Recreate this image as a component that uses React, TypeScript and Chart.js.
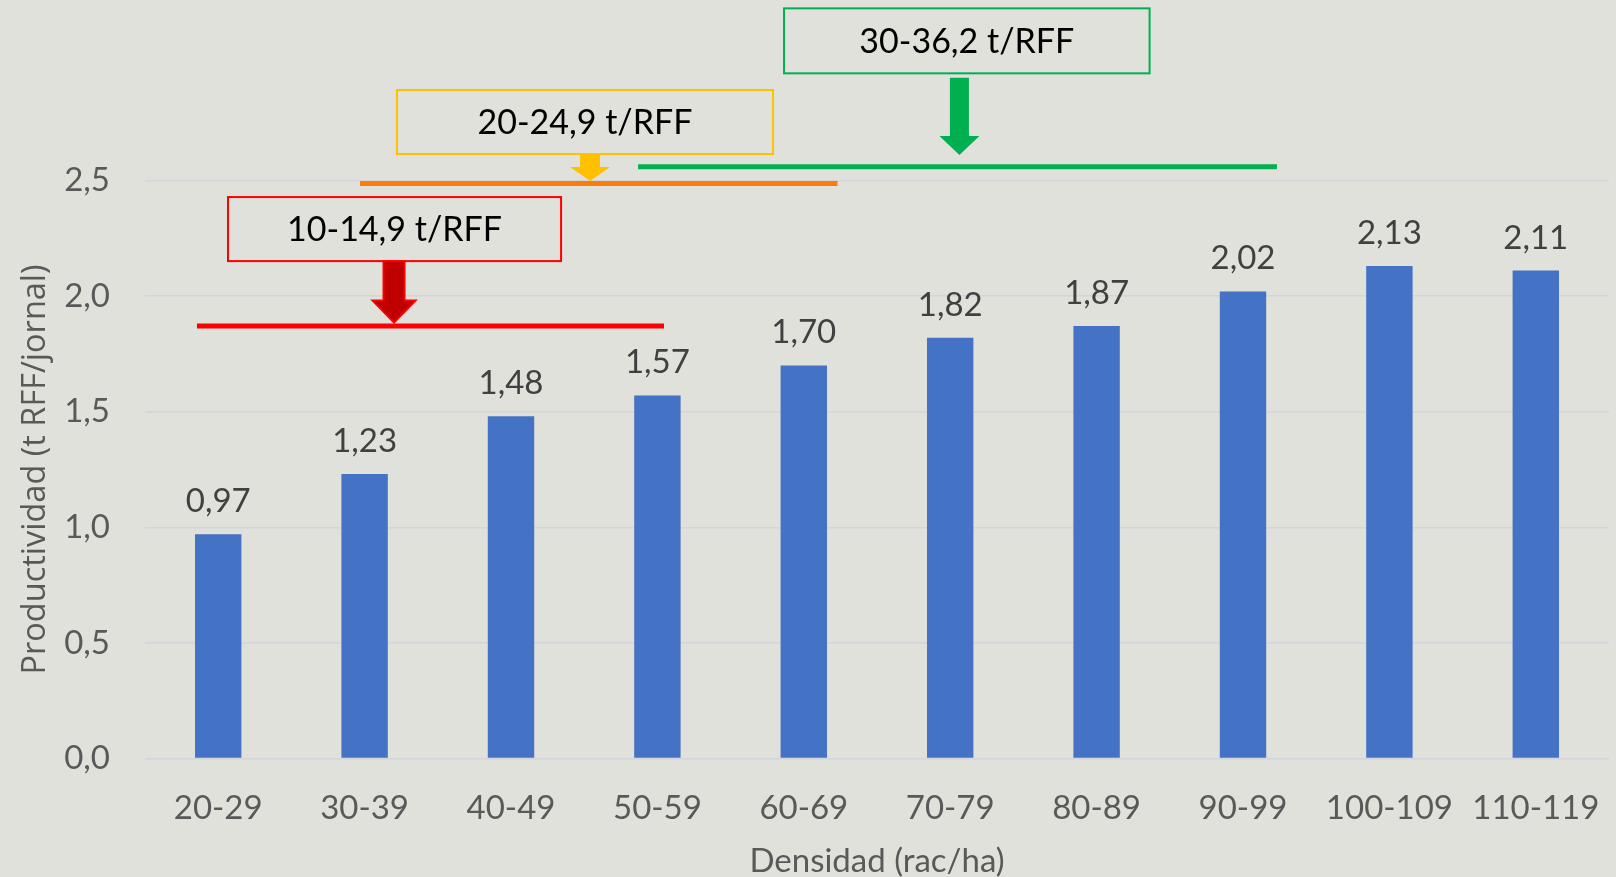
import React, { useEffect, useRef } from "react";
import { Chart, registerables } from "chart.js";

Chart.register(...registerables);

// ---- data ----
const categories = ["20-29", "30-39", "40-49", "50-59", "60-69", "70-79", "80-89", "90-99", "100-109", "110-119"];
const productividad = [0.97, 1.23, 1.48, 1.57, 1.7, 1.82, 1.87, 2.02, 2.13, 2.11];
const yTickValues = [0, 0.5, 1.0, 1.5, 2.0, 2.5];

// range annotations (category index units on x, productivity units on y)
const rangeLabels = ["10-14,9 t/RFF", "20-24,9 t/RFF", "30-36,2 t/RFF"];
const rangeLevel = [1.87, 2.487, 2.559];
const rangeFrom = [-0.145, 0.969, 2.868];
const rangeTo = [3.045, 4.23, 7.232];
const boxLeft = [0.067, 1.221, 3.865];
const boxRight = [2.342, 3.79, 6.362];
const boxTop = [2.428, 2.891, 3.244];
const boxBottom = [2.151, 2.614, 2.963];
const arrowX = [1.201, 2.54, 5.063];
const arrowFrom = [2.151, 2.614, 2.944];
const arrowTip = [1.885, 2.497, 2.61];

// ---- styles ----
const W = 1616;
const H = 877;
const BG = "#e1e1db";
const TEXT_FONT = "Lato, 'Open Sans', sans-serif";
const lineColors = ["#ff0000", "#fb7d08", "#00b050"];
const boxColors = ["#ff0000", "#ffc000", "#00b050"];
const arrowFill = ["#c00000", "#ffc000", "#00b050"];
const arrowStroke = ["#ff0000", null, null];
const arrowShaft = [21, 20, 19];
const arrowHeadW = [43, 40, 40];
const arrowHeadH = [22, 14, 19];

const fmt = (v: number, d: number) => v.toFixed(d).replace(".", ",");

const bgPlugin = {
  id: "bg",
  beforeDraw(chart: any) {
    const ctx = chart.ctx;
    ctx.save();
    ctx.fillStyle = BG;
    ctx.fillRect(0, 0, chart.width, chart.height);
    ctx.restore();
  },
};

const valueLabelPlugin = {
  id: "valueLabels",
  afterDatasetsDraw(chart: any) {
    const ctx = chart.ctx;
    const meta = chart.getDatasetMeta(0);
    ctx.save();
    ctx.font = `33px ${TEXT_FONT}`;
    ctx.fillStyle = "#404040";
    ctx.textAlign = "center";
    ctx.textBaseline = "alphabetic";
    meta.data.forEach((bar: any, i: number) => {
      ctx.fillText(fmt(productividad[i], 2), bar.x, bar.y - 22);
    });
    ctx.restore();
  },
};

const annotationPlugin = {
  id: "ranges",
  afterDatasetsDraw(chart: any) {
    const ctx = chart.ctx;
    const xs = chart.scales.x;
    const ys = chart.scales.y;
    const px = (v: number) => xs.getPixelForValue(v);
    const py = (v: number) => ys.getPixelForValue(v);
    ctx.save();
    for (let i = 0; i < rangeLabels.length; i++) {
      // horizontal range line
      ctx.strokeStyle = lineColors[i];
      ctx.lineWidth = 5;
      ctx.lineCap = "butt";
      ctx.beginPath();
      ctx.moveTo(px(rangeFrom[i]), py(rangeLevel[i]));
      ctx.lineTo(px(rangeTo[i]), py(rangeLevel[i]));
      ctx.stroke();

      // arrow
      const cx = px(arrowX[i]);
      const top = py(arrowFrom[i]);
      const tip = py(arrowTip[i]);
      const sw = arrowShaft[i] / 2;
      const hw = arrowHeadW[i] / 2;
      const hh = arrowHeadH[i];
      ctx.beginPath();
      ctx.moveTo(cx - sw, top);
      ctx.lineTo(cx - sw, tip - hh);
      ctx.lineTo(cx - hw, tip - hh);
      ctx.lineTo(cx, tip);
      ctx.lineTo(cx + hw, tip - hh);
      ctx.lineTo(cx + sw, tip - hh);
      ctx.lineTo(cx + sw, top);
      ctx.closePath();
      ctx.fillStyle = arrowFill[i];
      ctx.fill();
      if (arrowStroke[i]) {
        ctx.strokeStyle = arrowStroke[i] as string;
        ctx.lineWidth = 2;
        ctx.lineJoin = "miter";
        ctx.stroke();
      }

      // label box
      const l = px(boxLeft[i]);
      const r = px(boxRight[i]);
      const t = py(boxTop[i]);
      const b = py(boxBottom[i]);
      ctx.strokeStyle = boxColors[i];
      ctx.lineWidth = 2;
      ctx.strokeRect(l, t, r - l, b - t);
      ctx.fillStyle = "#000000";
      ctx.font = `34px ${TEXT_FONT}`;
      ctx.textAlign = "center";
      ctx.textBaseline = "middle";
      ctx.fillText(rangeLabels[i], (l + r) / 2, (t + b) / 2 + 1);
    }
    ctx.restore();
  },
};

export default function App() {
  const ref = useRef<HTMLCanvasElement>(null);

  useEffect(() => {
    const canvas = ref.current;
    if (!canvas) return;
    const chart = new Chart(canvas, {
      type: "bar",
      data: {
        labels: categories,
        datasets: [
          {
            data: productividad,
            backgroundColor: "#4472c4",
            borderWidth: 0,
            barPercentage: 0.317,
            categoryPercentage: 1,
          },
        ],
      },
      options: {
        animation: false,
        responsive: false,
        maintainAspectRatio: false,
        devicePixelRatio: 1,
        layout: { padding: { top: 180.4, right: 7, left: 0, bottom: 0 } },
        plugins: {
          legend: { display: false },
          tooltip: { enabled: false },
          title: { display: false },
        },
        scales: {
          x: {
            grid: { display: false, drawTicks: false },
            border: { display: false },
            ticks: {
              font: { family: TEXT_FONT, size: 33 },
              color: "#595959",
              padding: 30,
              maxRotation: 0,
              autoSkip: false,
            },
            title: {
              display: true,
              text: "Densidad (rac/ha)",
              font: { family: TEXT_FONT, size: 33, lineHeight: 0.92 },
              color: "#595959",
              padding: { top: 0, bottom: 0 },
            },
            afterFit: (s: any) => {
              s.height = 118.5;
              s.paddingLeft = 0;
              s.paddingRight = 0;
            },
          },
          y: {
            min: 0,
            max: 2.5,
            afterBuildTicks: (s: any) => {
              s.ticks = yTickValues.map((v) => ({ value: v }));
            },
            ticks: {
              font: { family: TEXT_FONT, size: 33 },
              color: "#595959",
              padding: 35,
              callback: (v: any) => fmt(Number(v), 1),
            },
            grid: { color: "#d4d4dc", lineWidth: 1.5, drawTicks: false },
            border: { display: false },
            title: {
              display: true,
              text: "Productividad (t RFF/jornal)",
              font: { family: "'Open Sans', sans-serif", size: 32.5 },
              color: "#595959",
              padding: { top: 16, bottom: 0 },
            },
            afterFit: (s: any) => {
              s.width = 145;
            },
          },
        },
      },
      plugins: [bgPlugin, valueLabelPlugin, annotationPlugin],
    });
    return () => chart.destroy();
  }, []);

  return (
    <div style={{ position: "fixed", left: 0, top: 0, width: W, height: H, background: BG }}>
      <canvas ref={ref} width={W} height={H} style={{ display: "block", width: W, height: H }} />
    </div>
  );
}
